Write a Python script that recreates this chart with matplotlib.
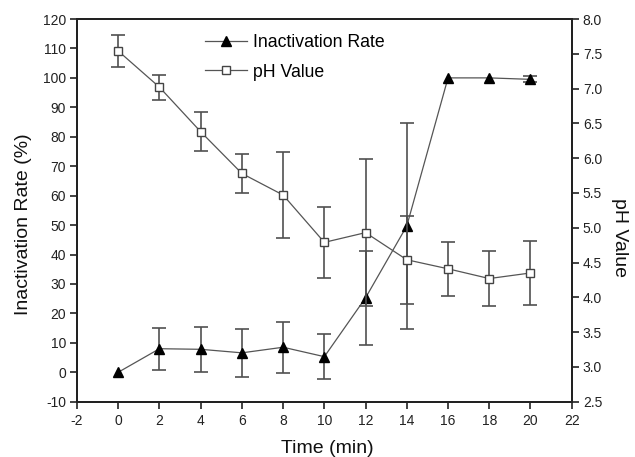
import numpy as np
import matplotlib
matplotlib.use("Agg")
import matplotlib.pyplot as plt
from matplotlib.lines import Line2D

plt.rcParams['font.family'] = ['Liberation Sans', 'DejaVu Sans']

time = [0, 2, 4, 6, 8, 10, 12, 14, 16, 18, 20]
inact = [0, 8.0, 7.8, 6.6, 8.5, 5.3, 25.3, 49.7, 100, 100, 99.5]
inact_err = [0, 7.2, 7.7, 8.1, 8.6, 7.6, 16.0, 35.0, 0, 0, 1.0]
ph = [7.54, 7.02, 6.38, 5.78, 5.47, 4.79, 4.93, 4.54, 4.41, 4.27, 4.35]
ph_err = [0.23, 0.18, 0.28, 0.28, 0.62, 0.51, 1.06, 0.63, 0.39, 0.39, 0.46]

xticks = list(range(-2, 23, 2))
lticks = list(range(-10, 121, 10))
rticks = [2.5, 3.0, 3.5, 4.0, 4.5, 5.0, 5.5, 6.0, 6.5, 7.0, 7.5, 8.0]

fig = plt.figure(figsize=(6.35, 4.57), dpi=100)
ax = fig.add_axes([0.1213, 0.121, 0.7790, 0.8374])
ax2 = ax.twinx()

line_col = '#555555'
err_col = '#505050'

ie = np.array(inact_err, dtype=float)
ie = np.where(ie > 0, ie, np.nan)
pe = np.array(ph_err, dtype=float)

ax.errorbar(time, inact, yerr=ie, fmt='none', ecolor=err_col, elinewidth=1.2,
            capsize=5, capthick=1.2, zorder=2)
ax.plot(time, inact, '-', color=line_col, lw=0.9, marker='^', ms=7.5,
        mfc='black', mec='black', zorder=3)

ax2.errorbar(time, ph, yerr=pe, fmt='none', ecolor=err_col, elinewidth=1.2,
             capsize=5, capthick=1.2, zorder=2)
ax2.plot(time, ph, '-', color=line_col, lw=0.9, marker='s', ms=6.3,
         mfc='white', mec='#444444', mew=1.0, zorder=3)

ax.set_xlim(-2, 22)
ax.set_ylim(-10, 120)
ax2.set_ylim(2.5, 8.0)
ax.set_xticks(xticks)
ax.set_xticklabels([str(t) for t in xticks])
ax.set_yticks(lticks)
ax.set_yticklabels([str(t) for t in lticks])
ax2.set_yticks(rticks)
ax2.set_yticklabels(['%.1f' % t for t in rticks])

for a in (ax, ax2):
    for s in a.spines.values():
        s.set_linewidth(1.4)
        s.set_color('#222222')
    a.tick_params(direction='out', length=5, width=1.2, labelsize=10, colors='#222222')
ax.tick_params(axis='x', pad=4)
ax.tick_params(axis='y', pad=3)
ax2.tick_params(axis='y', pad=3)

ax.set_xlabel('Time (min)', fontsize=14, color='#111111')
ax.set_ylabel('Inactivation Rate (%)', fontsize=14, color='#111111')
ax2.set_ylabel('pH Value', fontsize=14, color='#111111', rotation=270)
ax.xaxis.set_label_coords(0.505, -0.099)
ax.yaxis.set_label_coords(-0.092, 0.465)
ax2.yaxis.set_label_coords(1.113, 0.43)

h1 = Line2D([], [], color=line_col, lw=0.9, marker='^', ms=7.5, mfc='black', mec='black')
h2 = Line2D([], [], color=line_col, lw=0.9, marker='s', ms=6.3, mfc='white', mec='#444444')
ax.legend([h1, h2], ['Inactivation Rate', 'pH Value'], loc='upper left',
          bbox_to_anchor=(0.259, 0.96), frameon=False, fontsize=12.7,
          handlelength=2.4, handletextpad=0.3, labelspacing=0.7,
          borderaxespad=0, borderpad=0)

fig.savefig('out.png', dpi=100)
